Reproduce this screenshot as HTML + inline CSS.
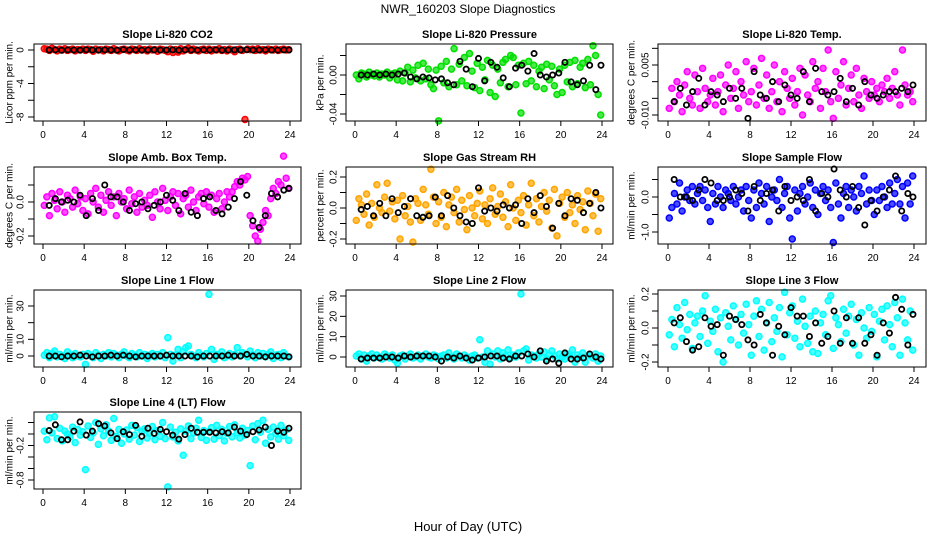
<!DOCTYPE html>
<html><head><meta charset="utf-8"><style>
html,body{margin:0;padding:0;background:#fff;}
svg{display:block;font-family:"Liberation Sans",Arial,sans-serif;}
</style></head><body>
<svg id="chart" width="936" height="540" viewBox="0 0 936 540" xmlns="http://www.w3.org/2000/svg">
<rect width="936" height="540" fill="#fff"/>
<text x="468" y="13" text-anchor="middle" font-size="12">NWR_160203  Slope Diagnostics</text>
<text x="468" y="531" text-anchor="middle" font-size="13">Hour of Day (UTC)</text>
</svg>
<script>
const HOURS = [0.125,0.375,0.625,0.875,1.125,1.375,1.625,1.875,2.125,2.375,2.625,2.875,3.125,3.375,3.625,3.875,
4.125,4.375,4.625,4.875,5.125,5.375,5.625,5.875,6.125,6.375,6.625,6.875,7.125,7.375,7.625,7.875,
8.125,8.375,8.625,8.875,9.125,9.375,9.625,9.875,10.125,10.375,10.625,10.875,11.125,11.375,11.625,11.875,
12.125,12.375,12.625,12.875,13.125,13.375,13.625,13.875,14.125,14.375,14.625,14.875,15.125,15.375,15.625,15.875,
16.125,16.375,16.625,16.875,17.125,17.375,17.625,17.875,18.125,18.375,18.625,18.875,19.125,19.375,19.625,19.875,
20.125,20.375,20.625,20.875,21.125,21.375,21.625,21.875,22.125,22.375,22.625,22.875,23.125,23.375,23.625,23.875];
const BLACK_HOURS = [0.6,1.2,1.8,2.4,3.0,3.6,4.2,4.8,5.4,6.0,6.6,7.2,7.8,8.4,9.0,9.6,10.2,10.8,11.4,12.0,
12.6,13.2,13.8,14.4,15.0,15.6,16.2,16.8,17.4,18.0,18.6,19.2,19.8,20.4,21.0,21.6,22.2,22.8,23.4,23.9];

const co2Cloud = [0.15,0.1,-0.05,0.2,0.05,-0.1,0.1,0,0.15,-0.05,0.05,0.1,-0.1,0.05,0,0.1,
-0.05,0.1,0.05,-0.15,0.1,0,0.05,-0.1,0.1,0.05,-0.05,0.15,0,-0.1,0.05,0.1,
0,-0.1,0.1,0.05,-0.05,0.15,0,0.05,-0.1,0.1,0,0.05,-0.15,0.1,0.05,-0.05,
-0.2,0.1,-0.3,0.05,-0.25,0.15,-0.1,0.05,0.2,-0.05,0.1,0,-0.1,0.05,0.1,-0.05,
0.1,-0.1,0.05,0,0.15,-0.05,0.05,-0.1,0.1,0,-0.2,0.05,0.1,-0.05,-8.3,0.1,
0.05,0.1,-0.05,0.15,0,0.05,-0.1,0.1,0.05,0,0.1,-0.05,0.05,0.1,0,0.05];
const co2Black = [0,0.02,-0.03,0.01,0,-0.02,0.03,0,-0.01,0.02,0,-0.02,0.05,0,0.01,-0.02,0,0.02,-0.01,0,0.01,-0.03,0.02,0,-0.01,0.01,0,0.02,-0.02,0,0.01,0,0.03,-0.01,0,0.02,0,-0.01,0.01,0];

const presCloud = [0.000,-0.004,0.002,0.001,-0.002,0.003,0.000,-0.001,0.002,-0.002,0.001,0.000,0.003,-0.003,0.001,0.002,
-0.005,0.004,-0.006,0.002,0.008,-0.007,0.005,-0.003,0.010,-0.006,0.012,-0.004,0.006,-0.010,-0.014,0.005,
-0.047,0.009,-0.008,0.014,-0.012,0.006,0.027,-0.010,0.011,-0.006,0.018,-0.011,0.022,0.004,-0.013,0.012,
-0.016,0.008,-0.005,0.015,-0.018,0.010,-0.022,0.006,-0.008,0.013,0.016,-0.012,0.020,0.018,-0.010,0.010,
-0.039,0.012,-0.009,0.014,-0.006,0.010,-0.012,0.004,0.008,-0.014,0.011,-0.005,0.009,-0.011,-0.020,0.006,
-0.018,0.010,-0.007,0.013,-0.012,0.015,-0.009,0.008,0.012,-0.013,0.016,-0.010,0.030,0.020,-0.020,-0.041];
const presBlack = [0.000,0.000,0.001,0.000,0.001,0.000,0.001,0.002,-0.002,-0.004,-0.002,-0.003,-0.005,-0.004,-0.008,-0.010,0.014,0.006,-0.012,0.017,
-0.006,0.013,0.008,-0.003,-0.012,0.007,0.010,0.004,0.022,0.000,-0.002,0.000,0.002,0.013,-0.007,-0.010,-0.006,0.010,-0.015,0.010];

const tempCloud = [-0.008,-0.002,-0.006,0.000,-0.004,-0.009,-0.001,0.003,-0.005,-0.007,0.002,-0.003,-0.008,0.004,-0.002,-0.006,
-0.004,0.001,-0.007,-0.003,0.002,-0.009,-0.001,0.005,-0.005,-0.002,0.003,-0.008,0.000,-0.004,0.006,-0.006,
-0.003,0.004,-0.007,-0.001,0.007,-0.005,0.002,-0.008,-0.003,0.005,-0.006,0.000,-0.009,0.003,-0.002,-0.005,
0.001,-0.007,-0.003,0.004,-0.010,0.002,-0.004,-0.006,0.006,-0.002,0.000,-0.008,0.004,-0.003,0.0095,-0.006,
-0.011,0.003,-0.005,-0.001,0.006,-0.007,-0.002,0.002,-0.006,0.004,-0.004,-0.008,0.001,-0.003,-0.005,0.000,
-0.004,-0.002,-0.006,-0.001,-0.003,0.001,-0.005,-0.002,0.003,-0.004,-0.007,0.0095,-0.001,-0.004,-0.003,-0.006];
const tempBlack = [-0.006,-0.002,-0.007,-0.003,0.001,-0.007,-0.003,-0.004,-0.006,-0.002,-0.005,-0.002,-0.011,0.003,-0.004,-0.005,0.000,-0.006,-0.001,-0.004,
-0.005,0.003,-0.006,0.004,-0.003,-0.004,-0.003,0.001,-0.006,-0.002,-0.007,0.000,-0.004,-0.005,-0.004,-0.003,-0.003,-0.002,-0.003,-0.001];

const ambCloud = [-0.02,0.03,-0.08,0.05,0.01,-0.04,0.06,0.00,-0.06,0.04,0.02,-0.03,0.07,-0.01,0.03,-0.05,
0.02,-0.07,0.05,0.00,0.08,-0.03,0.04,-0.06,0.01,0.06,-0.02,0.03,-0.08,0.05,0.00,0.02,
-0.04,0.07,-0.01,0.03,-0.06,0.05,-0.03,0.01,-0.02,0.04,-0.09,0.06,0.00,-0.04,0.08,0.01,
-0.05,0.03,0.06,-0.02,0.05,-0.07,0.02,0.04,-0.03,0.07,0.00,-0.05,0.03,0.05,-0.01,0.06,
-0.03,0.04,-0.06,0.02,0.05,-0.04,0.00,0.06,0.03,0.06,0.09,0.12,0.10,0.14,0.13,0.15,
-0.08,-0.14,-0.20,-0.23,-0.16,-0.12,-0.05,-0.08,0.02,0.08,0.05,0.12,0.10,0.27,0.14,0.08];
const ambBlack = [-0.02,0.02,0.00,0.01,0.00,0.04,-0.08,0.02,-0.05,0.10,0.03,0.03,0.00,-0.05,-0.01,0.00,-0.04,-0.02,0.00,0.04,
0.01,-0.05,0.05,-0.06,-0.08,0.02,0.03,-0.05,-0.07,-0.03,0.02,0.12,0.04,-0.11,-0.15,-0.08,0.05,0.03,0.07,0.08];

const rhCloud = [-0.08,0.06,0.02,-0.04,0.09,-0.11,0.03,-0.06,0.15,0.00,-0.03,0.07,0.16,-0.02,0.04,-0.07,
0.05,-0.20,0.08,-0.05,0.01,-0.09,-0.22,0.06,0.03,-0.08,0.12,0.02,-0.04,0.25,0.07,-0.10,
0.04,-0.06,0.10,-0.12,0.02,0.07,-0.03,0.12,-0.09,0.05,-0.01,-0.14,0.08,0.00,-0.05,0.03,
0.11,-0.07,0.02,-0.10,0.06,0.13,-0.04,0.01,0.09,-0.06,0.04,-0.12,0.15,0.00,-0.08,0.05,
-0.03,0.08,-0.11,0.02,0.16,-0.05,0.06,-0.09,0.01,0.10,-0.02,0.05,-0.13,0.12,-0.18,0.03,
0.07,-0.06,0.10,-0.03,0.02,-0.10,0.08,-0.01,0.04,-0.14,0.11,0.03,-0.05,0.09,-0.15,0.06];
const rhBlack = [-0.01,0.01,-0.05,0.03,-0.05,0.06,-0.03,0.01,0.06,-0.05,-0.06,-0.05,0.07,-0.05,0.08,0.00,-0.05,-0.09,-0.10,0.13,
-0.02,0.00,-0.02,0.02,0.00,0.02,-0.10,0.06,-0.03,0.08,0.01,-0.13,0.03,-0.05,0.06,0.05,-0.03,0.03,0.10,0.00];

const sampleCloud = [-0.6,-0.3,0.1,-0.2,0.4,-0.4,0.0,0.2,-0.1,0.3,-0.2,0.1,0.3,-0.1,0.2,-0.3,
-0.7,0.1,-0.2,0.3,0.0,-0.3,0.2,0.1,-0.1,0.3,-0.2,0.0,0.2,-0.4,0.3,-0.1,
-0.6,0.2,-0.3,0.4,0.1,-0.2,0.3,-0.7,0.0,0.2,-0.1,0.5,-0.3,0.1,0.3,-0.6,
-1.2,0.2,-0.4,0.1,0.3,-0.2,0.0,0.4,-0.3,0.2,-0.5,0.1,0.3,-0.1,0.2,-0.3,
-1.3,0.4,-0.2,-0.6,0.1,0.3,-0.3,0.2,0.0,-0.4,0.3,0.1,0.6,-0.2,0.2,-0.1,
-0.5,0.2,-0.1,0.3,0.0,-0.3,0.4,-0.2,0.1,0.5,-0.2,0.3,-0.6,0.4,-0.2,0.6];
const sampleBlack = [0.5,0.0,0.0,-0.1,0.2,0.5,0.4,-0.1,-0.1,0.0,0.2,0.1,-0.4,0.3,-0.1,0.1,0.2,-0.4,0.3,-0.1,
0.0,-0.1,0.5,-0.4,0.1,0.0,0.8,0.2,0.0,0.3,-0.3,-0.8,-0.1,-0.4,0.0,0.2,0.6,-0.4,0.1,0.0];

const line1Cloud = [0.5,2.0,-1.0,1.5,3.0,-0.5,1.0,0.0,-1.5,2.5,0.5,-1.0,1.5,0.0,-0.5,1.0,
-5.0,1.5,0.0,-1.0,2.0,0.5,-1.5,1.0,0.0,2.0,-0.5,1.5,0.5,-1.0,1.0,2.5,
0.0,-1.0,1.5,0.5,-0.5,2.0,0.0,1.0,-1.5,0.5,1.5,-0.5,1.0,0.0,2.0,-1.0,
11.0,1.0,-3.0,0.5,4.0,-1.0,2.5,5.0,6.0,1.0,0.0,-1.0,2.0,0.5,-0.5,1.5,
37.0,4.0,-2.0,1.0,0.5,2.5,-1.0,0.0,1.5,-0.5,1.0,5.0,0.0,2.0,1.0,-0.5,
3.0,0.5,-1.0,2.0,0.0,1.5,-0.5,1.0,2.5,-1.5,0.5,1.0,-1.0,2.0,0.0,-0.5];
const line1Black = [0,0,-0.5,0,0,0.5,0,-0.5,0,0,0.5,0,0.5,0,-0.5,0,0,0,0,0.5,
0,0,0,0,-0.5,0,0,0,0,0.5,0,0,1.0,0,0,-0.5,0,0,0,-0.5];

const line2Cloud = [0.5,1.5,-1.0,1.0,-2.0,0.5,1.5,-0.5,1.0,0.0,-1.0,1.5,0.5,-0.5,1.0,-1.5,
-3.0,0.5,1.0,-1.0,0.5,1.5,-0.5,0.0,1.0,-1.0,0.5,1.5,0.0,-0.5,1.0,0.5,
-1.0,0.5,1.0,-0.5,2.0,0.0,-1.0,1.5,0.5,-0.5,1.0,0.0,-1.5,0.5,1.0,-0.5,
8.5,0.0,-2.5,3.0,-3.5,1.5,0.0,3.0,-1.0,2.0,0.5,3.5,-0.5,1.0,0.0,2.0,
31.0,3.0,4.0,-1.5,1.0,0.5,-0.5,1.5,0.0,2.5,-1.0,1.0,3.0,0.5,-1.0,1.5,
0.0,-1.0,1.5,0.5,3.5,-2.5,1.0,0.0,2.0,-2.5,0.5,1.0,-0.5,1.5,-2.0,0.5];
const line2Black = [-1,-0.5,-0.5,-0.5,0,0,-0.5,0.5,0,0.5,0.5,0.5,0,-2.0,0,-0.5,0.5,-0.5,-1.5,-0.5,
0,0.5,0.5,-0.5,-1,0.5,0.5,1.5,0,3,-2,-1,-3,2,-1,-1,-0.5,1.5,0,-1];

const line3Cloud = [-0.04,0.05,-0.11,0.12,0.02,-0.06,0.15,-0.01,0.08,-0.12,0.03,0.07,-0.05,0.10,0.19,-0.09,
0.04,-0.02,0.11,-0.14,0.06,-0.20,0.09,0.01,-0.07,0.13,0.05,-0.10,0.08,-0.03,0.14,0.02,
-0.16,0.07,0.16,-0.05,0.11,-0.13,0.03,0.15,-0.08,0.06,-0.02,0.12,-0.17,0.21,-0.04,0.09,
0.13,-0.06,0.04,-0.11,0.17,0.01,-0.09,0.07,-0.14,0.10,-0.15,0.03,0.08,-0.04,0.16,0.19,
-0.12,0.06,0.02,-0.08,0.11,-0.03,0.07,0.14,-0.10,0.05,-0.16,0.09,0.00,-0.06,0.12,-0.02,
0.08,-0.17,0.04,0.11,-0.07,0.13,0.02,-0.11,0.15,0.06,-0.16,0.17,0.03,-0.07,0.10,-0.13];
const line3Black = [0.03,0.06,-0.08,-0.13,-0.11,0.06,0.01,0.02,-0.16,0.07,0.05,0.02,-0.07,-0.10,0.08,0.03,-0.16,0.01,-0.04,0.12,
0.07,0.07,-0.05,0.03,-0.09,-0.05,0.10,-0.09,0.06,-0.09,0.06,-0.09,-0.04,-0.16,0.03,-0.03,0.18,0.11,-0.10,0.08];

const line4Cloud = [0.05,-0.10,0.28,0.02,0.30,-0.08,0.10,-0.12,0.05,0.00,-0.05,0.12,-0.15,0.08,-0.02,0.04,
-0.62,0.14,-0.06,0.02,0.20,-0.18,0.09,-0.03,0.16,0.05,-0.11,0.27,-0.04,0.08,-0.16,0.00,
0.07,-0.09,0.15,-0.02,0.11,-0.13,0.04,0.09,-0.07,0.01,0.13,-0.10,0.06,-0.04,0.20,-0.08,
-0.92,0.12,-0.05,0.03,-0.12,0.09,-0.37,0.05,0.14,-0.08,0.02,0.10,0.24,-0.06,0.06,-0.11,
0.04,0.11,-0.09,0.15,-0.03,0.08,-0.12,0.01,0.13,-0.05,0.16,0.02,-0.07,0.10,-0.02,0.06,
-0.55,0.14,-0.10,0.18,0.03,0.24,-0.16,0.08,-0.05,0.12,0.01,-0.09,0.15,-0.03,0.07,-0.11];
const line4Black = [0.06,0.16,-0.10,-0.10,0.05,0.21,-0.02,0.05,0.18,0.14,0.02,-0.08,0.04,-0.01,0.15,-0.04,0.10,0.01,0.08,0.04,
-0.02,-0.09,-0.01,0.10,0.03,0.03,0.03,0.02,0.04,0.02,0.12,0.05,-0.01,0.04,0.07,0.12,-0.20,0.05,0.03,0.10];

const X_TICKS = [0,4,8,12,16,20,24];

// layout (not data)
const COLS = [
  {bl:34, br:301, x0:43, x24:290, ylabX:10, tlX:21},
  {bl:346, br:613, x0:355, x24:602, ylabX:321, tlX:334},
  {bl:658, br:926, x0:668, x24:914, ylabX:632, tlX:646}
];
const ROWS = [44,167,290,412];
const BOX_H = 77;

const PANELS = [
 {name:'co2', title:'Slope Li-820 CO2', ylab:'Licor ppm per min.', col:0,row:0, color:'#ff0000', cloud:co2Cloud, black:co2Black,
  ref:[0,50,-8,117], ticks:[0,-2,-4,-6,-8], labels:{'0':'0','-4':'-4','-8':'-8'}},
 {name:'pressure', title:'Slope Li-820 Pressure', ylab:'kPa per min.', col:1,row:0, color:'#00e000', cloud:presCloud, black:presBlack,
  ref:[0,75,-0.04,114], ticks:[0.02,0,-0.02,-0.04], labels:{'0':'0.00','-0.04':'-0.04'}},
 {name:'temp', title:'Slope Li-820 Temp.', ylab:'degrees C per min.', col:2,row:0, color:'#ff00ff', cloud:tempCloud, black:tempBlack,
  ref:[0.005,65,-0.01,115], ticks:[0.01,0.005,0,-0.005,-0.01], labels:{'0.005':'0.005','-0.01':'-0.010'}},
 {name:'amb-box-temp', title:'Slope Amb. Box Temp.', ylab:'degrees C per min.', col:0,row:1, color:'#ff00ff', cloud:ambCloud, black:ambBlack,
  ref:[0,202,-0.2,236], ticks:[0.1,0,-0.1,-0.2], labels:{'0':'0.0','-0.2':'-0.2'}},
 {name:'gas-rh', title:'Slope Gas Stream RH', ylab:'percent per min.', col:1,row:1, color:'#ffa500', cloud:rhCloud, black:rhBlack,
  ref:[0.2,177,-0.2,239], ticks:[0.2,0.1,0,-0.1,-0.2], labels:{'0.2':'0.2','0':'0.0','-0.2':'-0.2'}},
 {name:'sample-flow', title:'Slope Sample Flow', ylab:'ml/min per min.', col:2,row:1, color:'#0000ff', cloud:sampleCloud, black:sampleBlack,
  ref:[0,197,-1,232], ticks:[0.5,0,-0.5,-1], labels:{'0':'0.0','-1':'-1.0'}},
 {name:'line1-flow', title:'Slope Line 1 Flow', ylab:'ml/min per min.', col:0,row:2, color:'#00ffff', cloud:line1Cloud, black:line1Black,
  ref:[0,356,30,306], ticks:[0,10,20,30], labels:{'0':'0','10':'10','30':'30'}},
 {name:'line2-flow', title:'Slope Line 2 Flow', ylab:'ml/min per min.', col:1,row:2, color:'#00ffff', cloud:line2Cloud, black:line2Black,
  ref:[0,357,30,296], ticks:[0,10,20,30], labels:{'0':'0','10':'10','20':'20','30':'30'}},
 {name:'line3-flow', title:'Slope Line 3 Flow', ylab:'ml/min per min.', col:2,row:2, color:'#00ffff', cloud:line3Cloud, black:line3Black,
  ref:[0,328,0.2,294], ticks:[0.2,0.1,0,-0.1,-0.2], labels:{'0.2':'0.2','0':'0.0','-0.2':'-0.2'}},
 {name:'line4-flow', title:'Slope Line 4 (LT) Flow', ylab:'ml/min per min.', col:0,row:3, color:'#00ffff', cloud:line4Cloud, black:line4Black,
  ref:[0,434,-0.8,480], ticks:[0.2,0,-0.2,-0.4,-0.6,-0.8], labels:{'-0.2':'-0.2','-0.8':'-0.8'}}
];

const NS = 'http://www.w3.org/2000/svg';
const svg = document.getElementById('chart');
function mk(tag, attrs, parent) {
  const e = document.createElementNS(NS, tag);
  for (const k in attrs) e.setAttribute(k, attrs[k]);
  parent.appendChild(e);
  return e;
}

PANELS.forEach(p => {
  const c = COLS[p.col];
  const top = ROWS[p.row], bot = top + BOX_H;
  const xS = h => c.x0 + h * (c.x24 - c.x0) / 24;
  const yS = v => p.ref[1] + (v - p.ref[0]) * (p.ref[3] - p.ref[1]) / (p.ref[2] - p.ref[0]);

  const g = mk('g', {}, svg);
  
  

  const t = mk('text', {x:(c.bl + c.br) / 2, y: top - 6, 'text-anchor':'middle', 'font-size':'11', 'font-weight':'bold'}, g);
  t.textContent = p.title;
  
  

  const yl = mk('text', {x:c.ylabX, y:(top + bot) / 2, 'text-anchor':'middle', 'dominant-baseline':'central', 'font-size':'10',
    transform:'rotate(-90 ' + c.ylabX + ' ' + (top + bot) / 2 + ')'}, g);
  yl.textContent = p.ylab;
  
  

  const pts = mk('g', {}, g);
  
  
  p.cloud.forEach((v, i) => {
    const cc = mk('circle', {cx:xS(HOURS[i]), cy:yS(v), r:3, fill:p.color, 'fill-opacity':0.7, stroke:p.color, 'stroke-width':1.5}, pts);
    
    
  });
  const bpts = mk('g', {}, g);
  
  
  p.black.forEach((v, i) => {
    const cc = mk('circle', {cx:xS(BLACK_HOURS[i]), cy:yS(v), r:2.6, fill:'none', stroke:'#000', 'stroke-width':1.8}, bpts);
    
    
  });

  const box = mk('rect', {x:c.bl, y:top, width:c.br - c.bl, height:BOX_H, fill:'none', stroke:'#000', 'stroke-width':1}, g);
  
  

  const xa = mk('g', {}, g);
  
  
  X_TICKS.forEach(h => {
    mk('line', {x1:xS(h), x2:xS(h), y1:bot, y2:bot + 5, stroke:'#000'}, xa);
    const tl = mk('text', {x:xS(h), y:bot + 17, 'text-anchor':'middle', 'font-size':'10'}, xa);
    tl.textContent = String(h);
    
    
  });

  const ya = mk('g', {}, g);
  
  
  p.ticks.forEach(v => {
    const y = yS(v);
    mk('line', {x1:c.bl - 6, x2:c.bl, y1:y, y2:y, stroke:'#000'}, ya);
    const lab = p.labels[String(v)];
    if (lab !== undefined) {
      const tl = mk('text', {x:c.tlX, y:y, 'text-anchor':'middle', 'dominant-baseline':'central', 'font-size':'10',
        transform:'rotate(-90 ' + c.tlX + ' ' + y + ')'}, ya);
      tl.textContent = lab;
      
      
    }
  });
});
</script>
</body></html>
